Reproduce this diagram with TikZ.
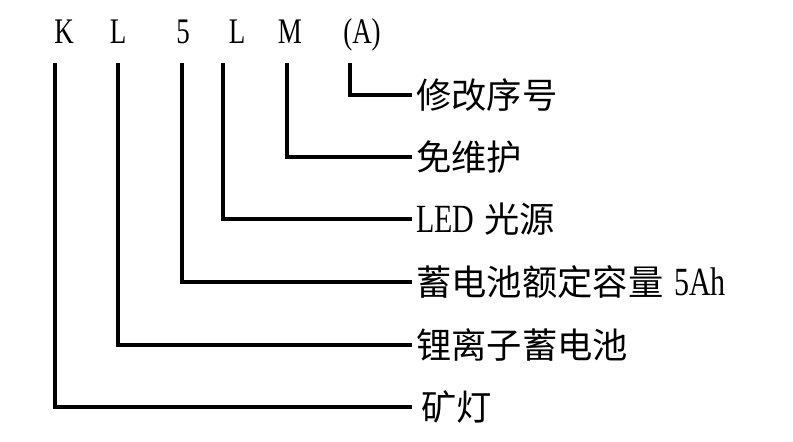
\documentclass[tikz,border=0pt]{standalone}
\usepackage{fontspec}
\setmainfont{Liberation Serif}[FakeStretch=0.75]
\newfontfamily\cjk{Noto Sans CJK SC}
\newcommand{\codefont}{\fontsize{36}{40}\selectfont}
\newcommand{\meaningfont}{\fontsize{40}{44}\selectfont}
\newcommand{\hanzi}[1]{{\cjk\fontsize{35.3}{40}\selectfont #1}}

\tikzset{
  codechar/.style={font=\codefont, anchor=base, inner sep=0pt},
  codemeaning/.style={font=\meaningfont, anchor=west, inner xsep=4pt,
    inner ysep=0pt, text height=26pt, text depth=0pt},
  leader/.style={line width=3.2pt},
}

\begin{document}
\begin{tikzpicture}[x=1pt,y=-1pt]
  \useasboundingbox (0,0) rectangle (793,442);
  % Model code
  \node[codechar] (ck) at (64,43) {K};
  \node[codechar] (cl) at (118,43) {L};
  \node[codechar] (c5) at (183,43) {5};
  \node[codechar] (cl2) at (237,43) {L};
  \node[codechar] (cm) at (290,43) {M};
  \node[codechar] (ca) at (362,43) {(A)};
  % Leader tops
  \coordinate (kt) at (55,63);
  \coordinate (lt) at (118,63);
  \coordinate (fivet) at (182,63);
  \coordinate (lst) at (223,63);
  \coordinate (mt) at (287,63);
  \coordinate (at) at (350,63);
  % Meanings
  \node[codemeaning] (rev) at (412,95) {\hanzi{修改序号}};
  \node[codemeaning] (free) at (412,157) {\hanzi{免维护}};
  \node[codemeaning] (led) at (412,219) {LED\hspace{10pt}\hanzi{光源}};
  \node[codemeaning] (cap) at (412,282) {\hanzi{蓄电池额定容量}\hspace{11pt}5Ah};
  \node[codemeaning] (li) at (412,345) {\hanzi{锂离子蓄电池}};
  \node[codemeaning] (lamp) at (412,407) {\hspace{5pt}\hanzi{矿灯}};
  % Leaders
  \draw[leader] (kt) |- (lamp.west);
  \draw[leader] (lt) |- (li.west);
  \draw[leader] (fivet) |- (cap.west);
  \draw[leader] (lst) |- (led.west);
  \draw[leader] (mt) |- (free.west);
  \draw[leader] (at) |- (rev.west);
\end{tikzpicture}
\end{document}
